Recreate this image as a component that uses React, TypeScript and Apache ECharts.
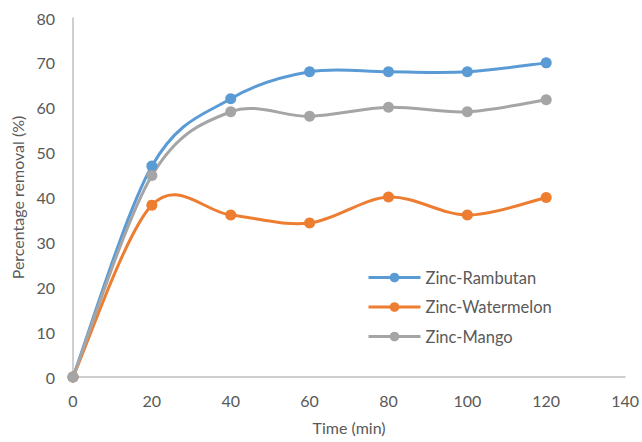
import React, { useEffect, useRef } from "react";
import * as echarts from "echarts";

const times = [0, 20, 40, 60, 80, 100, 120];
const rambutan = [0, 47, 62, 68, 68, 68, 70];
const watermelon = [0, 38.3, 36.1, 34.3, 40.1, 36.1, 40];
const mango = [0, 44.9, 59.1, 58.1, 60.1, 59.1, 61.8];
const seriesNames = ["Zinc-Rambutan", "Zinc-Watermelon", "Zinc-Mango"];
const colors = ["#5B9BD5", "#ED7D31", "#A5A5A5"];
const xTicks = { min: 0, max: 140, interval: 20 };
const yTicks = { min: 0, max: 80, interval: 10 };

const FONT = "Lato";
const TEXT = "#595959";

function splinePath(pts: number[][]): string {
  // Excel-like Catmull-Rom cubic Bezier smoothing in pixel space
  let d = `M${pts[0][0]},${pts[0][1]}`;
  for (let i = 0; i < pts.length - 1; i++) {
    const p0 = pts[i - 1] || pts[i];
    const p1 = pts[i];
    const p2 = pts[i + 1];
    const p3 = pts[i + 2] || p2;
    const c1x = p1[0] + (p2[0] - p0[0]) / 6;
    const c1y = p1[1] + (p2[1] - p0[1]) / 6;
    const c2x = p2[0] - (p3[0] - p1[0]) / 6;
    const c2y = p2[1] - (p3[1] - p1[1]) / 6;
    d += ` C${c1x},${c1y} ${c2x},${c2y} ${p2[0]},${p2[1]}`;
  }
  return d;
}

export default function App() {
  const ref = useRef<HTMLDivElement>(null);
  useEffect(() => {
    if (!ref.current) return;
    const chart = echarts.init(ref.current, undefined, { renderer: "svg" });
    const allData = [rambutan, watermelon, mango];
    const curveSeries = seriesNames.map((name, i) => ({
      name: name + " curve",
      type: "custom",
      silent: true,
      z: 2,
      clip: false,
      data: [[times[0], allData[i][0]]],
      renderItem: (params: any, api: any) => {
        const pts = times.map((t, j) => api.coord([t, allData[i][j]]));
        return {
          type: "path",
          shape: { pathData: splinePath(pts) },
          style: { fill: "none", stroke: colors[i], lineWidth: 3, lineJoin: "round", lineCap: "round" },
        };
      },
    }));
    const markerSeries = seriesNames.map((name, i) => ({
      name,
      type: "line",
      symbol: "circle",
      symbolSize: 11,
      data: times.map((t, j) => [t, allData[i][j]]),
      itemStyle: { color: colors[i] },
      lineStyle: { color: colors[i], width: 3, opacity: 0 },
      z: 3 + i,
    }));
    chart.setOption({
      animation: false,
      backgroundColor: "#ffffff",
      grid: { left: 73, right: 16, top: 18, bottom: 65 },
      legend: {
        orient: "vertical",
        left: 362,
        top: 264,
        padding: 5,
        itemWidth: 52,
        itemHeight: 12,
        itemGap: 12.5,
        textStyle: { fontFamily: FONT, fontSize: 16.5, color: TEXT },
        data: seriesNames.map((name, i) => ({
          name,
          itemStyle: { color: colors[i] },
          lineStyle: { color: colors[i], width: 3, opacity: 1 },
        })),
      },
      xAxis: {
        type: "value",
        ...xTicks,
        name: "Time (min)",
        nameLocation: "middle",
        nameGap: 42,
        nameTextStyle: { fontFamily: FONT, fontSize: 16, color: TEXT },
        axisLine: { show: true, lineStyle: { color: "#BFBFBF", width: 1.5 } },
        axisTick: { show: false },
        splitLine: { show: false },
        axisLabel: { fontFamily: FONT, fontSize: 16, color: TEXT, margin: 15 },
      },
      yAxis: {
        type: "value",
        ...yTicks,
        name: "Percentage removal (%)",
        nameLocation: "middle",
        nameGap: 48,
        nameTextStyle: { fontFamily: FONT, fontSize: 16, color: TEXT },
        axisLine: { show: true, lineStyle: { color: "#BFBFBF", width: 1.5 } },
        axisTick: { show: false },
        splitLine: { show: false },
        axisLabel: { fontFamily: FONT, fontSize: 16, color: TEXT, margin: 18 },
      },
      series: [...curveSeries, ...markerSeries],
    });
    return () => chart.dispose();
  }, []);
  return (
    <div
      ref={ref}
      style={{ position: "absolute", left: 0, top: 0, width: 642, height: 442 }}
    />
  );
}
